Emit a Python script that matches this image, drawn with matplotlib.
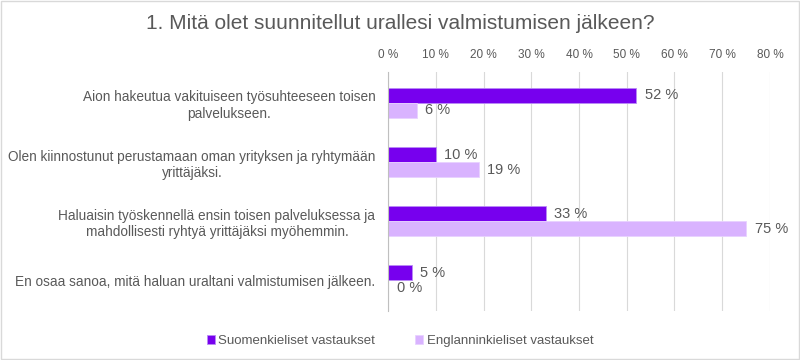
import numpy as np
import matplotlib.pyplot as plt

categories = [
    "Aion hakeutua vakituiseen työsuhteeseen toisen\npalvelukseen.",
    "Olen kiinnostunut perustamaan oman yrityksen ja ryhtymään\nyrittäjäksi.",
    "Haluaisin työskennellä ensin toisen palveluksessa ja\nmahdollisesti ryhtyä yrittäjäksi myöhemmin.",
    "En osaa sanoa, mitä haluan uraltani valmistumisen jälkeen.",
]
finnish = [52, 10, 33, 5]
english = [6, 19, 75, 0]
series_names = ["Suomenkieliset vastaukset", "Englanninkieliset vastaukset"]
xticks = list(range(0, 81, 10))

plt.rcParams['font.family'] = ['Liberation Sans', 'DejaVu Sans']
txt = '#595959'

fig = plt.figure(figsize=(8, 3.6), dpi=100)
ax = fig.add_axes([0.485, 0.136, 0.4775, 0.664])

y = np.arange(len(categories))
h = 0.254
b1 = ax.barh(y - h / 2, finnish, height=h, color='#7700EE', edgecolor='#B98CF5', linewidth=0.6,
             label=series_names[0])
b2 = ax.barh(y + h / 2, english, height=h, color='#D9B3FF', edgecolor='#E8D2FF', linewidth=0.6,
             label=series_names[1])

for bars in (b1, b2):
    for r in bars:
        ax.text(r.get_width() + 1.8, r.get_y() + r.get_height() / 2, f"{r.get_width():.0f} %",
                va='center', ha='left', fontsize=10.5, color=txt)

ax.set_xlim(0, 80)
ax.set_ylim(3.525, -0.525)
ax.xaxis.tick_top()
ax.set_xticks(xticks)
ax.set_xticklabels([f"{t} %" for t in xticks], fontsize=8.5, color=txt)
ax.tick_params(axis='x', length=0, pad=8)
ax.set_yticks(y)
ax.set_yticklabels(categories, fontsize=9.8, color=txt, ha='right', multialignment='center')
ax.tick_params(axis='y', length=0, pad=9)
ax.grid(axis='x', color='#D9D9D9', linewidth=0.8)
ax.set_axisbelow(True)
for s in ['top', 'right', 'bottom']:
    ax.spines[s].set_visible(False)
ax.spines['left'].set_color('#BFBFBF')

fig.text(0.5, 0.935, "1. Mitä olet suunnitellut urallesi valmistumisen jälkeen?",
         ha='center', va='center', fontsize=15, color=txt)

fig.legend(handles=[b1, b2], loc='center', bbox_to_anchor=(0.5, 0.052), ncol=2, frameon=False,
           fontsize=9.5, labelcolor=txt, handlelength=0.6, handleheight=0.6, handletextpad=0.3,
           columnspacing=3)

fig.patches.append(plt.Rectangle((0.001, 0.002), 0.998, 0.996, transform=fig.transFigure,
                                 fill=False, edgecolor='#D9D9D9', linewidth=1))

fig.savefig('out.png', dpi=100)
